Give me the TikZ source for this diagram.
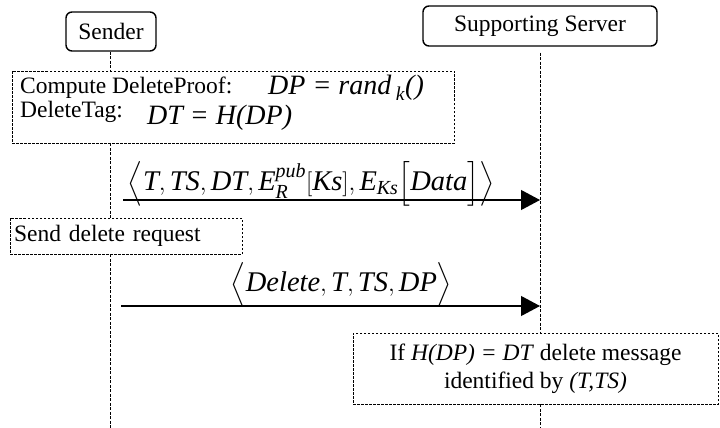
\documentclass[tikz,border=0pt]{standalone}
\usepackage{amsmath}
\usepackage{fontspec}
\setmainfont{Liberation Serif}
\usetikzlibrary{arrows.meta}
\newcommand{\ti}[1]{\textit{#1}}
\begin{document}
\begin{tikzpicture}[x=1pt,y=-1pt,
  every node/.style={font=\fontsize{23.5}{28}\selectfont, inner sep=0pt},
  actor/.style={draw, line width=1.4pt, rounded corners=6pt},
  note/.style={draw, line width=0.8pt, dash pattern=on 2.5pt off 1.5pt},
  life/.style={line width=0.8pt, dash pattern=on 3pt off 1.5pt},
  msg/.style={line width=1.1pt, -{Triangle[length=19pt,width=20pt]}},
  mlabel/.style={font=\fontsize{28.5}{32}\selectfont, anchor=base},
  eq/.style={font=\fontsize{28}{32}\selectfont\itshape, anchor=base west}]
\useasboundingbox (0,0) rectangle (720,428);
% actors
\node[actor, minimum width=90pt, minimum height=39pt] (sender) at (111,31.5) {Sender};
\node[actor, minimum width=234pt, minimum height=40pt] (server) at (540,26) {Supporting Server};
% note boxes
\node[note, minimum width=442pt, minimum height=72pt] (box1) at (233,107) {};
\node[anchor=base west] (t1) at (20,93) {Compute DeleteProof:};
\node[eq] (e1) at (268,95) {DP = rand\,\textsubscript{k}()};
\node[anchor=base west] (t2) at (20,117) {DeleteTag:};
\node[eq] (e2) at (147,124) {DT = H(DP)};
\node[note, minimum width=232pt, minimum height=36pt, text width=224pt, align=left] (box2) at (126,236) {Send delete request};
\node[note, minimum width=365pt, minimum height=71pt, align=center] (box3) at (535.5,368.5) {If \ti{H(DP) = DT} delete message\\identified by \ti{(T,TS)}};
% lifeline coordinates
\coordinate (sA) at (110,200);
\coordinate (sEnd) at (110,428);
\coordinate (vA) at (540,200);
\coordinate (vB) at (540,306);
\coordinate (vEnd) at (540,428);
\coordinate (s1) at (123,200);
\coordinate (s2) at (121,306);
% lifelines
\draw[life] (sender.south -| sA) -- (box1.north -| sA);
\draw[life] (box1.south -| sA) -- (box2.north -| sA);
\draw[life] (box2.south -| sA) -- (sEnd);
\draw[life] ([yshift=-6pt]server.south) -- (box3.north -| vA);
\draw[life] (box3.south -| vA) -- (vEnd);
% messages
\draw[msg] (s1) -- node[mlabel, pos=0.451, yshift=10pt] (m1) {$\Bigl\langle \ti{T}, \ti{TS}, \ti{DT}, \ti{E}^{\ti{pub}}_{\ti{R}}[\ti{Ks}], \ti{E}_{\ti{Ks}}\Bigl[\ti{Data}\Bigr]\Bigr\rangle$} (vA);
\draw[msg] (s2) -- node[mlabel, pos=0.526, yshift=15pt] (m2) {$\Bigl\langle \ti{Delete}, \ti{T}, \ti{TS}, \ti{DP}\Bigr\rangle$} (vB);
\end{tikzpicture}
\end{document}
